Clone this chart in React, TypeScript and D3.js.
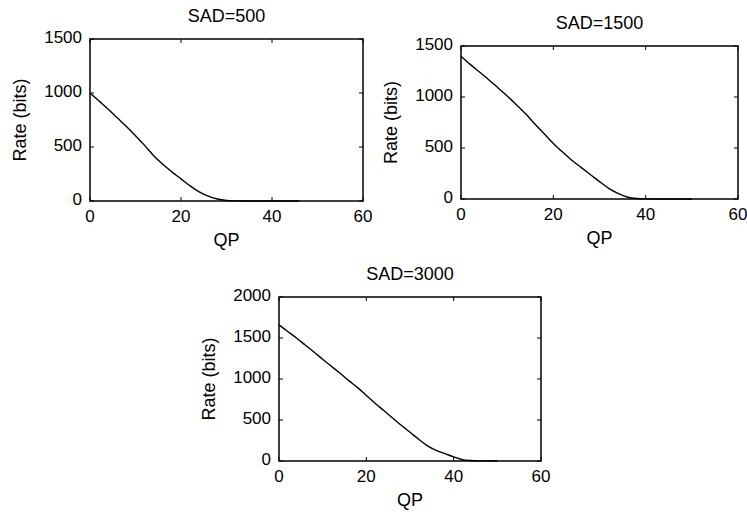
import React from "react";
import * as d3 from "d3";

const X_TICKS = [0, 20, 40, 60];
const Y_TICKS_1500 = [0, 500, 1000, 1500];
const Y_TICKS_2000 = [0, 500, 1000, 1500, 2000];

const TITLES = ["SAD=500", "SAD=1500", "SAD=3000"];
const X_LABEL = "QP";
const Y_LABEL = "Rate (bits)";

const QP_500 = [0, 2, 4, 6, 8, 10, 12, 14, 16, 18, 20, 22, 24, 26, 28, 30, 32, 34, 36, 38, 40, 42, 44, 46];
const RATE_500 = [1000, 925, 850, 770, 690, 605, 515, 420, 340, 270, 205, 140, 85, 45, 18, 5, 1, 0, 0, 0, 0, 0, 0, 0];

const QP_1500 = [0, 2, 4, 6, 8, 10, 12, 14, 16, 18, 20, 22, 24, 26, 28, 30, 32, 34, 36, 38, 40, 42, 44, 46, 48, 50];
const RATE_1500 = [1400, 1320, 1245, 1170, 1090, 1010, 925, 835, 735, 640, 545, 460, 380, 310, 240, 170, 105, 55, 20, 5, 1, 0, 0, 0, 0, 0];

const QP_3000 = [0, 2, 4, 6, 8, 10, 12, 14, 16, 18, 20, 22, 24, 26, 28, 30, 32, 34, 36, 38, 40, 42, 44, 46, 48, 50];
const RATE_3000 = [1660, 1580, 1500, 1415, 1330, 1240, 1155, 1070, 980, 895, 800, 705, 615, 525, 435, 350, 265, 185, 130, 90, 50, 17, 6, 2, 1, 0];

const FONT = "'Liberation Sans', Arial, Helvetica, sans-serif";

type PanelProps = {
  x0: number; x1: number; y0: number; y1: number;
  yMax: number; yTicks: number[]; title: string;
  qp: number[]; rate: number[];
};

function Panel({ x0, x1, y0, y1, yMax, yTicks, title, qp, rate }: PanelProps) {
  const xs = d3.scaleLinear().domain([0, 60]).range([x0, x1]);
  const ys = d3.scaleLinear().domain([0, yMax]).range([y1, y0]);
  const pts: [number, number][] = qp.map((q, i) => [q, rate[i]]);
  const line = d3.line<[number, number]>().x(d => xs(d[0])).y(d => ys(d[1])).curve(d3.curveMonotoneX);
  const tl = 4;
  const cx = (x0 + x1) / 2;
  const cy = (y0 + y1) / 2;
  return (
    <g>
      <rect x={x0} y={y0} width={x1 - x0} height={y1 - y0} fill="white" stroke="black" strokeWidth={1.5} />
      {X_TICKS.map(t => (
        <g key={"x" + t}>
          <line x1={xs(t)} x2={xs(t)} y1={y1} y2={y1 - tl} stroke="black" strokeWidth={1} />
          <line x1={xs(t)} x2={xs(t)} y1={y0} y2={y0 + tl} stroke="black" strokeWidth={1} />
          <text x={xs(t)} y={y1 + 17} textAnchor="middle" dominantBaseline="middle" fontSize={17} fontFamily={FONT}>{t}</text>
        </g>
      ))}
      {yTicks.map(t => (
        <g key={"y" + t}>
          <line x1={x0} x2={x0 + tl} y1={ys(t)} y2={ys(t)} stroke="black" strokeWidth={1} />
          <line x1={x1} x2={x1 - tl} y1={ys(t)} y2={ys(t)} stroke="black" strokeWidth={1} />
          <text x={x0 - 8} y={ys(t)} textAnchor="end" dominantBaseline="middle" fontSize={17} fontFamily={FONT}>{t}</text>
        </g>
      ))}
      <path d={line(pts) || ""} fill="none" stroke="black" strokeWidth={1.4} />
      <text x={cx} y={y0 - 22} textAnchor="middle" dominantBaseline="middle" fontSize={18} fontFamily={FONT}>{title}</text>
      <text x={cx} y={y1 + 40} textAnchor="middle" dominantBaseline="middle" fontSize={18} fontFamily={FONT}>{X_LABEL}</text>
      <text transform={`translate(${x0 - 69},${cy}) rotate(-90)`} textAnchor="middle" dominantBaseline="middle" fontSize={18} fontFamily={FONT}>{Y_LABEL}</text>
    </g>
  );
}

export default function App() {
  return (
    <svg width={747} height={514} style={{ position: "absolute", left: 0, top: 0, background: "white" }}>
      <rect width={747} height={514} fill="white" />
      <Panel x0={90} x1={363} y0={39} y1={201} yMax={1500} yTicks={Y_TICKS_1500} title={TITLES[0]} qp={QP_500} rate={RATE_500} />
      <Panel x0={461} x1={738} y0={46} y1={199} yMax={1500} yTicks={Y_TICKS_1500} title={TITLES[1]} qp={QP_1500} rate={RATE_1500} />
      <Panel x0={279} x1={541} y0={297} y1={461} yMax={2000} yTicks={Y_TICKS_2000} title={TITLES[2]} qp={QP_3000} rate={RATE_3000} />
    </svg>
  );
}
